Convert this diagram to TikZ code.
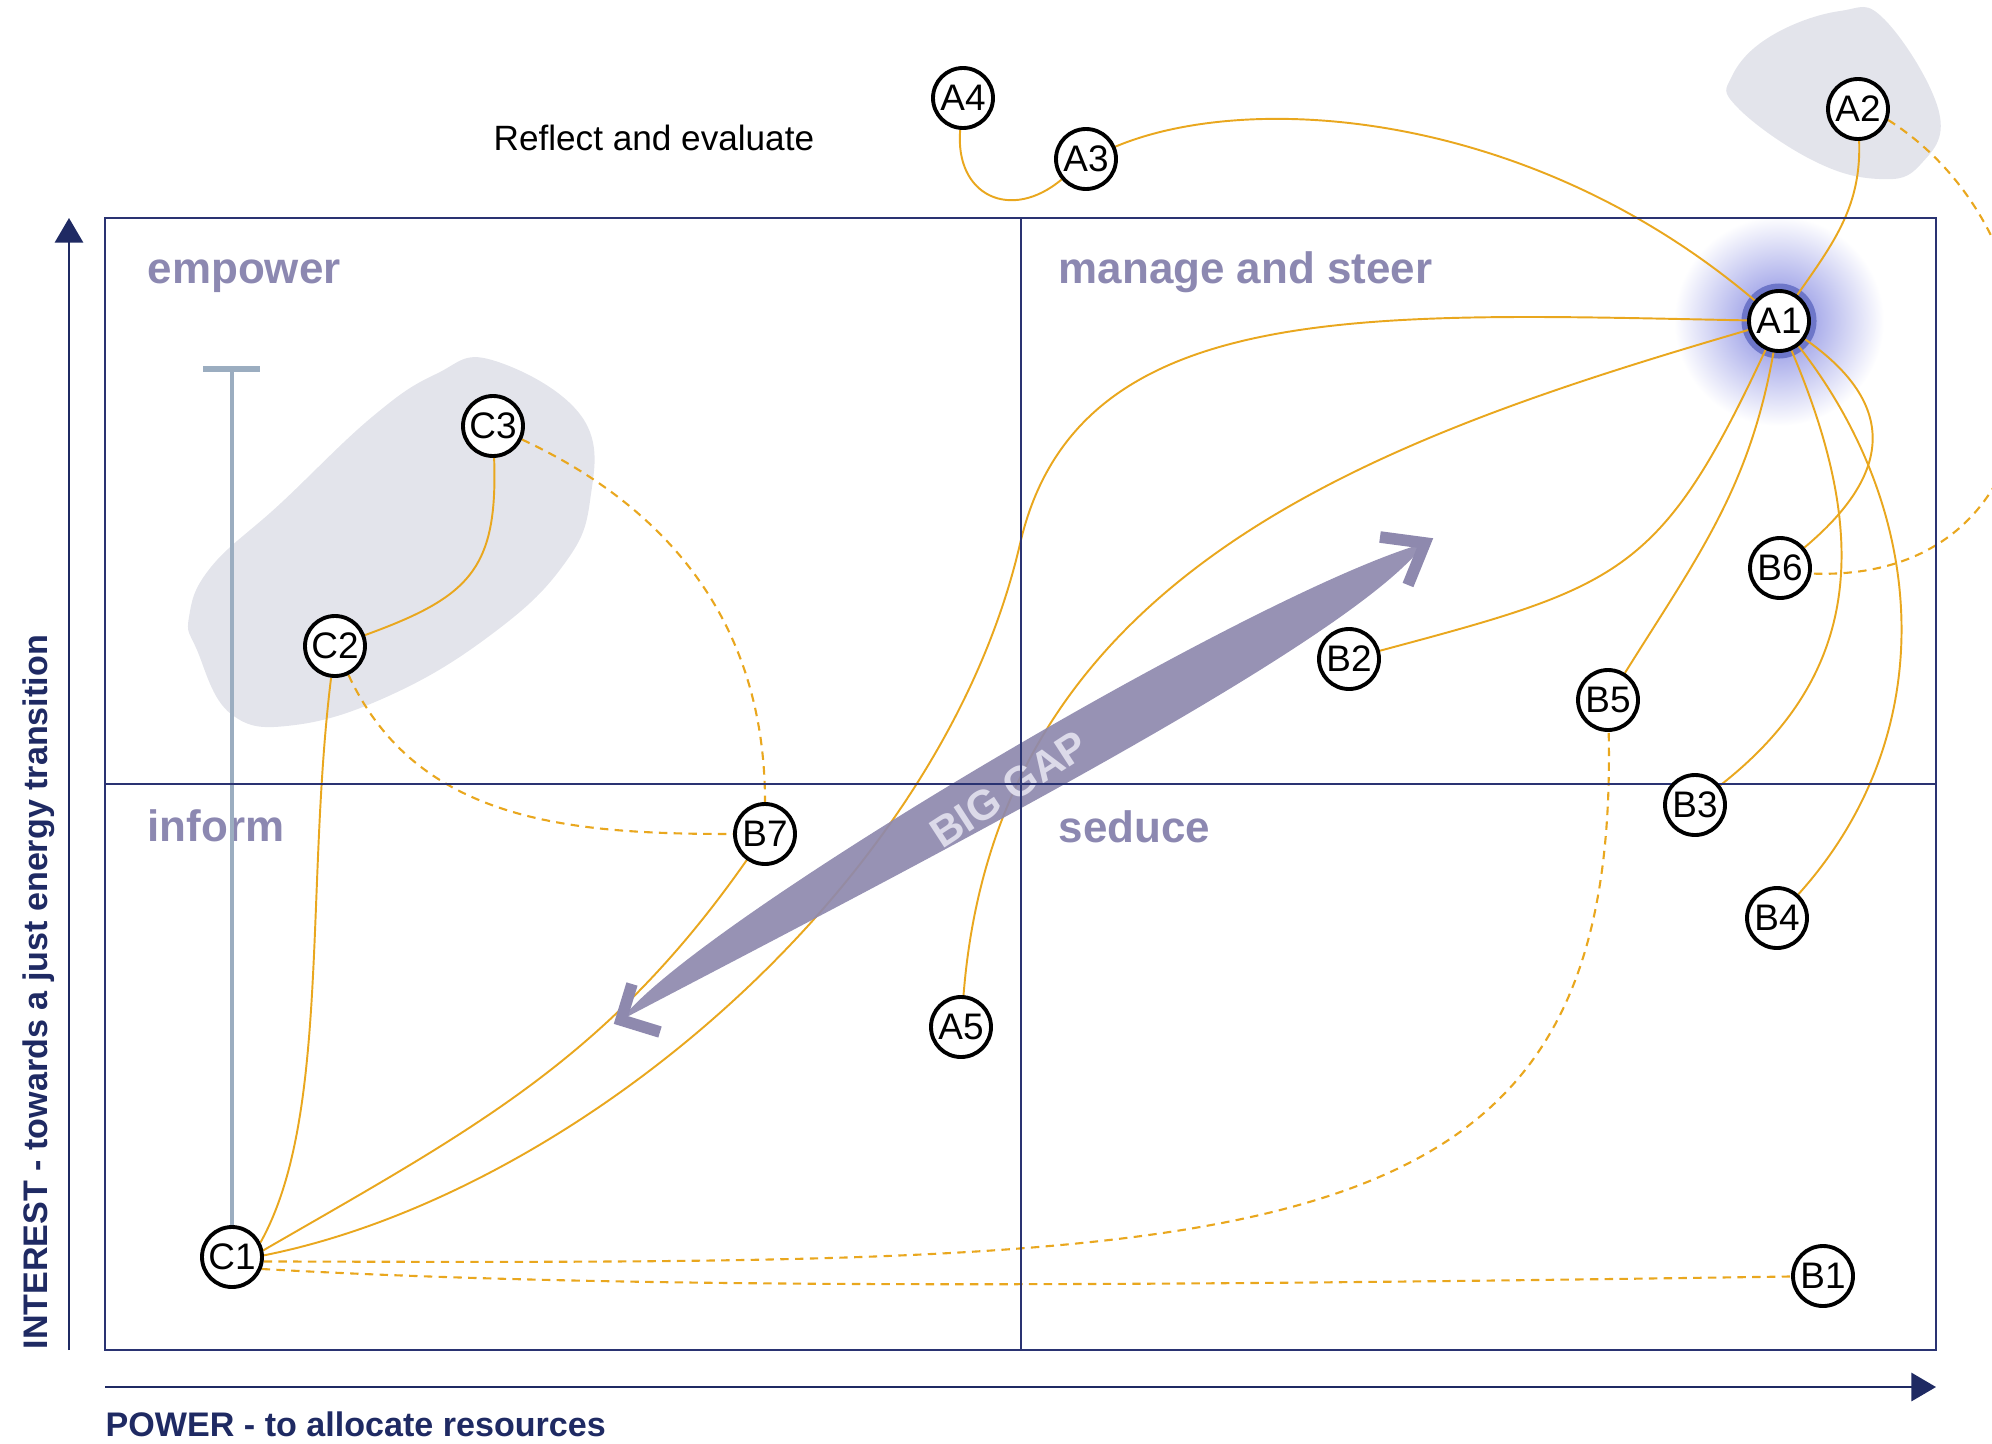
\documentclass[tikz,border=0pt]{standalone}
\usepackage{fontspec}
\setmainfont{Liberation Sans}
\usepackage{tikz}
\usetikzlibrary{arrows.meta,positioning,calc,backgrounds}
\definecolor{GridNavy}{HTML}{2A3372}
\definecolor{AxisNavy}{HTML}{1F2A63}
\definecolor{QuadLabel}{HTML}{8C88B1}
\definecolor{GapViolet}{HTML}{8E89AE}
\definecolor{GapText}{HTML}{DCDAE9}
\definecolor{LinkGold}{HTML}{E9A71E}
\definecolor{BlobGrey}{HTML}{E3E4EB}
\definecolor{RangeGrey}{HTML}{9BADC0}
\definecolor{GlowBlue}{HTML}{7F84E0}
\definecolor{RingBlue}{HTML}{6D76C9}

\begin{document}
\begin{tikzpicture}[
    actor/.style={
      circle, draw=black, line width=1.1pt, fill=white,
      minimum size=0.6cm, inner sep=0pt,
      font=\fontsize{10.5}{12}\selectfont
    },
    link/.style={LinkGold, line width=0.55pt},
    weak/.style={LinkGold, line width=0.6pt, dash pattern=on 2.4pt off 1.8pt},
    quad/.style={anchor=base west, inner sep=0pt, text=QuadLabel,
      font=\fontsize{12.5}{14}\selectfont\bfseries},
    grid/.style={GridNavy, line width=0.75pt},
    axis/.style={AxisNavy, line width=0.75pt, -{Triangle[length=7pt,width=8pt]}},
    chev/.style={GapViolet, line width=3.3pt, line join=miter}
  ]

  \useasboundingbox (0,0) rectangle (19.92,-14.43);

  % stakeholders
  \node[actor] (A4) at (9.63,-0.98)   {A4};
  \node[actor] (A3) at (10.86,-1.59)  {A3};
  \node[actor] (A2) at (18.58,-1.09)  {A2};
  \node[actor] (A1) at (17.79,-3.21)  {A1};
  \node[actor] (C3) at (4.93,-4.26)   {C3};
  \node[actor] (C2) at (3.35,-6.46)   {C2};
  \node[actor] (B6) at (17.80,-5.68)  {B6};
  \node[actor] (B2) at (13.49,-6.59)  {B2};
  \node[actor] (B5) at (16.08,-7.00)  {B5};
  \node[actor] (B3) at (16.95,-8.05)  {B3};
  \node[actor] (B7) at (7.65,-8.34)   {B7};
  \node[actor] (B4) at (17.77,-9.18)  {B4};
  \node[actor] (A5) at (9.61,-10.27)  {A5};
  \node[actor] (C1) at (2.32,-12.57)  {C1};
  \node[actor] (B1) at (18.23,-12.76) {B1};

  \coordinate (turn) at (10.2,-5.44);
  \coordinate (gapL) at (6.21,-10.20);
  \coordinate (gapU) at (14.25,-5.43);

  \begin{scope}[on background layer]
    % groups
    \fill[BlobGrey] plot[smooth cycle, tension=0.7] coordinates {
      (4.92,-3.60) (5.82,-4.17) (5.90,-5.01) (5.62,-5.67) (4.92,-6.34)
      (3.93,-6.94) (2.95,-7.25) (2.31,-7.14) (1.97,-6.50) (1.89,-6.17)
      (2.11,-5.67) (2.81,-5.03) (3.72,-4.17) (4.36,-3.74)};
    \fill[BlobGrey] plot[smooth cycle, tension=0.7] coordinates {
      (17.32,-0.76) (17.71,-0.36) (18.40,-0.11) (18.85,-0.20) (19.39,-1.12)
      (19.20,-1.65) (18.79,-1.79) (18.12,-1.60) (17.37,-1.07)};
    \shade[inner color=GlowBlue, outer color=white] (A1) circle (1.05);
    \draw[RingBlue, line width=2pt] (A1) circle (0.34);

    % quadrant labels
    \node[quad] (empower) at (1.47,-2.83)  {empower};
    \node[quad] (manage)  at (10.58,-2.83) {manage and steer};
    \node[quad] (inform)  at (1.47,-8.41)  {inform};
    \node[quad] (seduce)  at (10.58,-8.42) {seduce};
    \node[anchor=base west, inner sep=0pt, font=\fontsize{10}{12}\selectfont]
      (reflect) at (4.93,-1.50) {Reflect and evaluate};

    % range bar
    \draw[RangeGrey, line width=1.2pt] (2.32,-3.69) -- (C1.north);
    \draw[RangeGrey, line width=1.8pt] (2.03,-3.69) -- (2.60,-3.69);

    % links
    \draw[link] (A4) to[out=-95, in=-140, looseness=1.5] (A3);
    \draw[link] (A3) .. controls (12.5,-0.9) and (15.3,-1.1) .. (A1);
    \draw[link] (A2) to[out=-88, in=55] (A1);
    \draw[link] (A1) .. controls (13.68,-3.13) and (10.77,-2.96) .. (turn)
                     .. controls (9.40,-8.89) and (5.72,-11.94) .. (C1.3);
    \draw[link] (A1) .. controls (13.72,-4.40) and (9.97,-5.72) .. (A5);
    \draw[link] (A1) to[out=-115, in=15, looseness=1.3] (B2);
    \draw[link] (A1) to[out=-100, in=58] (B5);
    \draw[link] (A1) to[out=-67, in=38, looseness=1.1] (B3);
    \draw[link] (A1) to[out=-52, in=48] (B4);
    \draw[link] (A1) to[out=-35, in=40, looseness=1.4] (B6);
    \draw[link] (C3) to[out=-88, in=20, looseness=1.3] (C2);
    \draw[link] (C2) .. controls (3.05,-8.89) and (3.30,-11.18) .. (C1.27);
    \draw[link] (B7) to[out=-125, in=30] (C1.12);

    \draw[weak] (A2.-20) .. controls (20.8,-2.41) and (20.8,-5.84) .. (B6.-10);
    \draw[weak] (C3) to[out=-25, in=90] (B7);
    \draw[weak] (C2) to[out=-65, in=180] (B7);
    \draw[weak] (C1.-8) .. controls (12.70,-12.64) and (16.20,-12.70) .. (B5);
    \draw[weak] (C1.-22) .. controls (6.35,-12.90) and (11.43,-12.86) .. (B1);

    % the gap
    \fill[GapViolet, opacity=0.92]
      (gapL) .. controls (6.94,-9.23) and (12.57,-5.90) .. (gapU)
             .. controls (13.53,-6.42) and (9.11,-8.68) .. (gapL) -- cycle;
    \draw[chev] (13.80,-5.37) -- (gapU) -- (14.08,-5.85);
    \draw[chev] (6.32,-9.84) -- (gapL) -- (6.60,-10.32);
    \node[rotate=33, inner sep=0pt, text=GapText,
      font=\fontsize{12}{14}\selectfont\bfseries]
      (gap) at (10.09,-7.89) {BIG GAP};

    % matrix
    \draw[grid] (1.05,-2.18) rectangle (19.36,-13.50);
    \draw[grid] (10.21,-2.18) -- (10.21,-13.50);
    \draw[grid] (1.05,-7.84) -- (19.36,-7.84);
  \end{scope}

  % axes
  \draw[axis] (0.69,-13.50) -- (0.69,-2.18);
  \draw[axis] (1.05,-13.87) -- (19.36,-13.87);
  \node[anchor=base west, inner sep=0pt, text=AxisNavy,
    font=\fontsize{9.7}{12}\selectfont\bfseries]
    (power) at (1.05,-14.36) {POWER - to allocate resources};
  \node[anchor=base west, inner sep=0pt, rotate=90, text=AxisNavy,
    font=\fontsize{9.7}{12}\selectfont\bfseries]
    (interest) at (0.48,-13.50) {INTEREST - towards a just energy transition};

\end{tikzpicture}
\end{document}
